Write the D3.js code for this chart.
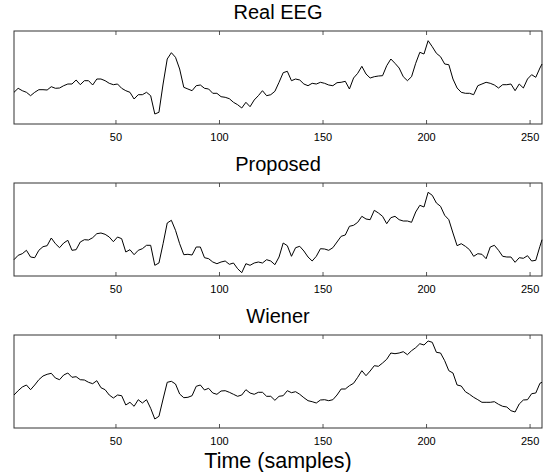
<!DOCTYPE html>
<html>
<head>
    <style>
        body { margin: 0; background: #fff; }
        .title { font: 20px "Liberation Sans", Arial, sans-serif; text-anchor: middle; }
        .tick text { font: 11px "Liberation Sans", Arial, sans-serif; }
        .xlabel { font: 21.5px "Liberation Sans", Arial, sans-serif; text-anchor: middle; }
    </style>
    <script src="https://d3js.org/d3.v7.min.js"></script>
</head>
<body>
    <svg width="551" height="472"></svg>

    <script>
        // values read every 2 samples (1, 3, 5, ... 255, then 256)
        var realEEG = [31.7,35.7,33.3,31.7,28.3,31.7,34.3,34.3,34,37.3,35.7,36,38.3,40,40,44,39.3,43.3,43.3,39,
            45,45,43.3,40.7,39.3,40,35.7,33.3,31.7,25,29.3,29.3,31.7,28.3,10,11.7,40,65,71.3,66.7,
            55,36.7,35,33.3,38.3,39,35.7,35,30.7,30.7,27.3,26.7,25.3,21.7,19.3,16,21.7,17.3,24,28.3,
            33.3,28.3,29.3,32.7,41.7,51.3,52.7,43.3,45,44,40,38.3,40.7,40,41.7,40.7,39,38.3,41.3,41.7,
            42.7,35,46,50.7,57.7,50,46,47.3,48,48.3,58.3,65,60.7,56,47.3,43.3,47.3,60.7,71.7,70,
            83.3,77.3,70.7,67.3,60,59.3,45,36,31.7,30.7,30.7,29.3,38.3,40,41.7,40.7,39,36,39.3,39.3,
            40,33.3,40,36,45,49.3,46.7,56,60];
        var proposed = [16.3,20.7,22.3,25.7,19,18.3,25.7,29.3,30.3,38,32.3,28.3,33,35.7,25.7,26.3,34,36.3,36,38.3,
            42.3,43,41.7,39,34.3,39,37.3,24,26.3,21.3,25.7,27.3,30.7,30.7,10.7,13,32.3,53,55.7,45.7,
            32.3,21.3,21.7,21,29,29,18.3,17.3,14,12.3,14,15,11.7,13,7.3,3.3,12.3,10.7,13,14,
            13,16.3,15,11.3,19,33,30.3,19.7,28.3,29.7,25,19,15,19.7,27.3,27,25.7,28.3,34,39.7,
            41,49.7,50.7,53.7,59.7,57,56.3,65.7,63,59.7,52.3,58.3,59.7,56.3,55,55,53.7,64,70.7,69,
            83.7,80.7,73,69.7,60.7,56.3,43,30.3,32.3,29.7,26.3,19.7,22.3,21.7,17.3,29,30.7,25.7,19.7,19,
            19,13.7,18.3,17.7,20.3,15,15.7,29.7,36.3];
        var wiener = [33,37.3,41,43,38.3,43,48.3,52,53.7,54.7,50,48.3,53,55,50.7,51.3,48.3,48,45.7,44.3,
            47.3,40.3,38.3,33,30,33,32.3,23,25.7,21.7,28.3,25,28.3,19.7,9,11.7,29,45.7,46.7,44,
            34,30.3,30.7,32.3,41.7,43,38,39.7,35,33.7,37,37.3,35.7,33.7,31.7,33,38.3,35,33.7,35.7,
            35.7,31.7,31.7,27.7,31.7,32.3,37.3,35.3,36.3,33.7,30.3,27.3,26.3,25,28,28.3,27.3,28.3,33,39,
            39,42.3,44.7,50.7,57.3,52.3,57,62.3,61.7,65,68.7,75,74.3,75,76.3,73.3,77.3,80.3,84.3,83,
            87,85.7,75.7,75,67.3,57.3,55,43,42,36.3,33.7,30.7,28.3,25.7,25.7,25.7,26.3,23.7,21.7,21,
            17.3,16,24,28,28.3,34.3,35,44.7,45.7];

        var titles = ["Real EEG", "Proposed", "Wiener"];
        var series = [realEEG, proposed, wiener];
        var xTicks = [50, 100, 150, 200, 250];

        var svg = d3.select("svg"),
            left = 14, right = 542,
            panelH = 93, panelTops = [31, 183, 335];

        var x = d3.scaleLinear().domain([1, 256]).range([left, right]);

        function sampleOf(i) { return Math.min(1 + 2 * i, 256); }

        series.forEach(function(vals, k) {
            var top = panelTops[k];
            var y = d3.scaleLinear().domain([0, 93]).range([top + panelH, top]);

            var g = svg.append("g");

            g.append("text")
             .attr("class", "title")
             .attr("x", (left + right) / 2)
             .attr("y", top - 12)
             .text(titles[k]);

            // bottom axis: ticks point inward, labels below
            var ax = g.append("g")
                      .attr("transform", "translate(0," + (top + panelH) + ")")
                      .call(d3.axisBottom(x).tickValues(xTicks).tickSize(-4).tickPadding(9));
            ax.select(".domain").remove();
            ax.selectAll(".tick line").attr("stroke", "#555");
            ax.selectAll(".tick text").attr("fill", "#000");

            // top ticks, also inward
            var axTop = g.append("g")
                         .attr("transform", "translate(0," + top + ")")
                         .call(d3.axisTop(x).tickValues(xTicks).tickSize(-4).tickFormat(""));
            axTop.select(".domain").remove();
            axTop.selectAll(".tick line").attr("stroke", "#555");

            g.append("rect")
             .attr("x", left)
             .attr("y", top)
             .attr("width", right - left)
             .attr("height", panelH)
             .attr("fill", "none")
             .attr("stroke", "#333")
             .attr("stroke-width", 1);

            var line = d3.line()
                         .x(function(d, i) { return x(sampleOf(i)); })
                         .y(function(d) { return y(d); });

            g.append("path")
             .datum(vals)
             .attr("d", line)
             .attr("fill", "none")
             .attr("stroke", "#000")
             .attr("stroke-width", 1);
        });

        svg.append("text")
           .attr("class", "xlabel")
           .attr("x", (left + right) / 2)
           .attr("y", 468)
           .text("Time (samples)");
    </script>
</body>
</html>
